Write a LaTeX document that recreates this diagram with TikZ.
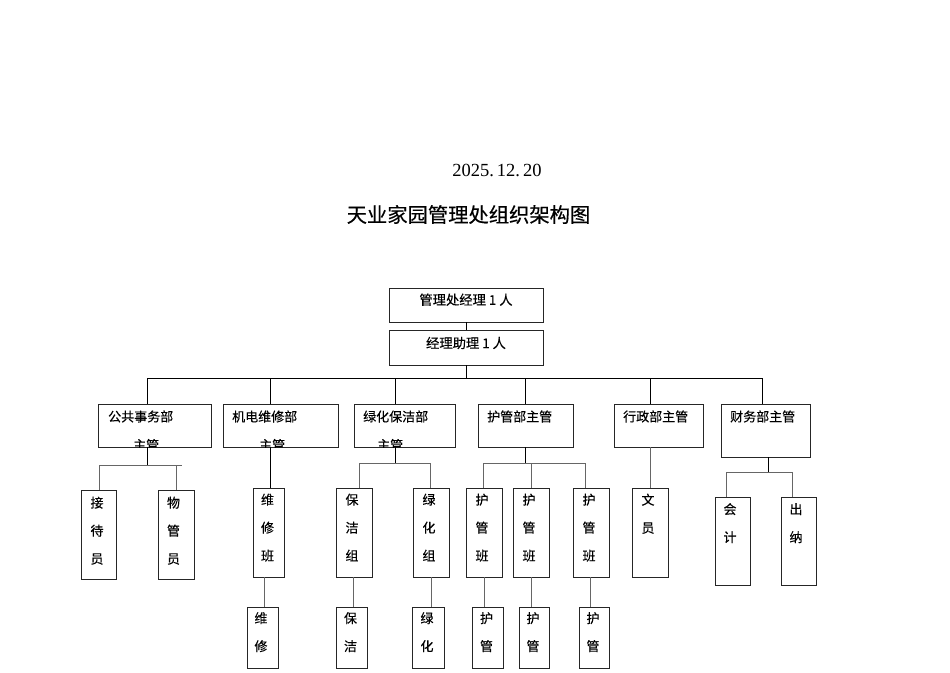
\documentclass[tikz,border=0pt]{standalone}
\usepackage{fontspec}
\setmainfont{Noto Sans CJK SC}[FakeBold=0.35]
\newfontfamily\datefont{Liberation Serif}
\begin{document}
\begin{tikzpicture}[x=1pt,y=-1pt,
  box/.style={draw=black!85,line width=0.9pt,inner sep=0pt,outer sep=0pt,anchor=north west},
  lbl/.style={inner sep=0pt,font=\fontsize{13}{15}\selectfont},
  vlbl/.style={inner sep=0pt,anchor=north,align=center,font=\fontsize{13}{28}\selectfont},
  mainline/.style={draw=black,line width=0.8pt},
  subline/.style={draw=black!60,line width=0.9pt}]
\useasboundingbox[fill=white] (0,0) rectangle (950,672);

% title and date
\node[inner sep=0pt,font=\datefont\fontsize{18.5}{20}\selectfont] (date) at (497,170) {2025.\,12.\,20};
\node[inner sep=0pt,font=\fontsize{20.3}{22}\selectfont] (title) at (468.5,214.5) {天业家园管理处组织架构图};

% top boxes
\node[box,minimum width=154pt,minimum height=34pt] (b1) at (389,288) {};
\node[box,minimum width=154pt,minimum height=35pt] (b2) at (389,330) {};
\node[lbl,font=\fontsize{13.3}{15}\selectfont] (tb1) at ([yshift=-11.7pt]b1.north) {管理处经理 1 人};
\node[lbl,font=\fontsize{13.3}{15}\selectfont] (tb2) at ([yshift=-13pt]b2.north) {经理助理 1 人};

% department boxes
\node[box,minimum width=113pt,minimum height=43pt] (d1) at (98,404) {};
\node[box,minimum width=115pt,minimum height=43pt] (d2) at (223,404) {};
\node[box,minimum width=101pt,minimum height=43pt] (d3) at (354,404) {};
\node[box,minimum width=95pt,minimum height=43pt] (d4) at (478,404) {};
\node[box,minimum width=89pt,minimum height=43pt] (d5) at (614,404) {};
\node[box,minimum width=89pt,minimum height=53pt] (d6) at (721,404) {};

\node[lbl,anchor=west] (td1) at (108,416.5) {公共事务部};
\node[lbl,anchor=west] (td2) at (232,416.5) {机电维修部};
\node[lbl,anchor=west] (td3) at (363,416.5) {绿化保洁部};
\node[lbl,anchor=west] (td4) at (487,416.5) {护管部主管};
\node[lbl,anchor=west] (td5) at (623,416.5) {行政部主管};
\node[lbl,anchor=west] (td6) at (730,416.5) {财务部主管};
\begin{scope}
\clip (d1.north west) rectangle (d1.south east);
\node[lbl,anchor=west] (td1b) at (133,445) {主管};
\end{scope}
\begin{scope}
\clip (d2.north west) rectangle (d2.south east);
\node[lbl,anchor=west] (td2b) at (259,445) {主管};
\end{scope}
\begin{scope}
\clip (d3.north west) rectangle (d3.south east);
\node[lbl,anchor=west] (td3b) at (377,445) {主管};
\end{scope}

% lower boxes
\node[box,minimum width=35pt,minimum height=89pt] (c1) at (81,490) {};
\node[box,minimum width=36pt,minimum height=89pt] (c2) at (158,490) {};
\node[box,minimum width=31pt,minimum height=89pt] (c3) at (253,488) {};
\node[box,minimum width=31pt,minimum height=61pt] (c4) at (247,607) {};
\node[box,minimum width=36pt,minimum height=89pt] (c5) at (336,488) {};
\node[box,minimum width=36pt,minimum height=89pt] (c6) at (413,488) {};
\node[box,minimum width=31pt,minimum height=61pt] (c7) at (336,607) {};
\node[box,minimum width=32pt,minimum height=61pt] (c8) at (412,607) {};
\node[box,minimum width=36pt,minimum height=89pt] (c9) at (466,488) {};
\node[box,minimum width=36pt,minimum height=89pt] (c10) at (513,488) {};
\node[box,minimum width=36pt,minimum height=89pt] (c11) at (573,488) {};
\node[box,minimum width=31pt,minimum height=61pt] (c12) at (472,607) {};
\node[box,minimum width=30pt,minimum height=61pt] (c13) at (519,607) {};
\node[box,minimum width=30pt,minimum height=61pt] (c14) at (579,607) {};
\node[box,minimum width=36pt,minimum height=89pt] (c15) at (632,488) {};
\node[box,minimum width=35pt,minimum height=88pt] (c16) at (715,497) {};
\node[box,minimum width=35pt,minimum height=88pt] (c17) at (781,497) {};

\node[vlbl] (tc1) at ([xshift=-1.5pt,yshift=-6.5pt]c1.north) {接\\待\\员};
\node[vlbl] (tc2) at ([xshift=-2.5pt,yshift=-6.5pt]c2.north) {物\\管\\员};
\node[vlbl] (tc3) at ([xshift=-1pt,yshift=-5.5pt]c3.north) {维\\修\\班};
\node[vlbl] (tc4) at ([xshift=-1.5pt,yshift=-5pt]c4.north) {维\\修};
\node[vlbl] (tc5) at ([xshift=-2pt,yshift=-5.5pt]c5.north) {保\\洁\\组};
\node[vlbl] (tc6) at ([xshift=-2pt,yshift=-5.5pt]c6.north) {绿\\化\\组};
\node[vlbl] (tc7) at ([xshift=-1pt,yshift=-5pt]c7.north) {保\\洁};
\node[vlbl] (tc8) at ([xshift=-1pt,yshift=-5pt]c8.north) {绿\\化};
\node[vlbl] (tc9) at ([xshift=-2pt,yshift=-5.5pt]c9.north) {护\\管\\班};
\node[vlbl] (tc10) at ([xshift=-2pt,yshift=-5.5pt]c10.north) {护\\管\\班};
\node[vlbl] (tc11) at ([xshift=-2pt,yshift=-5.5pt]c11.north) {护\\管\\班};
\node[vlbl] (tc12) at ([xshift=-1pt,yshift=-5pt]c12.north) {护\\管};
\node[vlbl] (tc13) at ([xshift=-1pt,yshift=-5pt]c13.north) {护\\管};
\node[vlbl] (tc14) at ([xshift=-1pt,yshift=-5pt]c14.north) {护\\管};
\node[vlbl] (tc15) at ([xshift=-2pt,yshift=-5.5pt]c15.north) {文\\员};
\node[vlbl] (tc16) at ([xshift=-2.5pt,yshift=-6pt]c16.north) {会\\计};
\node[vlbl] (tc17) at ([xshift=-2.5pt,yshift=-6pt]c17.north) {出\\纳};

% top connectors
\draw[mainline] (b1.south) -- (b2.north);
\coordinate (k1) at (147,378);
\coordinate (k2) at (270,378);
\coordinate (k3) at (395,378);
\coordinate (k4) at (525,378);
\coordinate (k5) at (650,378);
\coordinate (k6) at (762,378);
\draw[mainline] (k1) -- (k6);
\draw[mainline] (b2.south) -- (b2.south |- k1);
\foreach \k/\d in {k1/d1,k2/d2,k3/d3,k4/d4,k5/d5,k6/d6}
  \draw[mainline] (\k) -- (\k |- \d.north);

% department 1
\coordinate (j1) at (147,465.7);
\coordinate (j1L) at (99,465.7);
\coordinate (j1R) at (181.7,465.7);
\coordinate (j1b) at (176,465.7);
\draw[mainline] (j1 |- d1.south) -- (j1);
\draw[subline] (j1L) -- (j1R);
\draw[subline] (j1L) -- (j1L |- c1.north);
\draw[subline] (j1b) -- (j1b |- c2.north);

% department 2
\coordinate (j2) at (270.7,447);
\draw[mainline] (j2 |- d2.south) -- (j2 |- c3.north);
\coordinate (j2b) at (264.7,577);
\draw[subline] (j2b |- c3.south) -- (j2b |- c4.north);

% department 3
\coordinate (j3) at (395,463.3);
\coordinate (j3L) at (359.3,463.3);
\coordinate (j3R) at (430.7,463.3);
\draw[mainline] (j3 |- d3.south) -- (j3);
\draw[subline] (j3L) -- (j3R);
\draw[subline] (j3L) -- (j3L |- c5.north);
\draw[subline] (j3R) -- (j3R |- c6.north);
\coordinate (j3a) at (353.3,590);
\coordinate (j3b) at (431,590);
\draw[subline] (j3a |- c5.south) -- (j3a |- c7.north);
\draw[subline] (j3b |- c6.south) -- (j3b |- c8.north);

% department 4
\coordinate (j4) at (525,463.3);
\coordinate (j4L) at (483.3,463.3);
\coordinate (j4M) at (531.7,463.3);
\coordinate (j4R) at (585,463.3);
\draw[mainline] (j4 |- d4.south) -- (j4);
\draw[subline] (j4L) -- (j4R);
\draw[subline] (j4L) -- (j4L |- c9.north);
\draw[subline] (j4M) -- (j4M |- c10.north);
\draw[subline] (j4R) -- (j4R |- c11.north);
\coordinate (j4a) at (484,590);
\coordinate (j4b) at (531.7,590);
\coordinate (j4c) at (590.3,590);
\draw[subline] (j4a |- c9.south) -- (j4a |- c12.north);
\draw[subline] (j4b |- c10.south) -- (j4b |- c13.north);
\draw[subline] (j4c |- c11.south) -- (j4c |- c14.north);

% department 5
\coordinate (j5) at (650,447);
\draw[subline] (j5 |- d5.south) -- (j5 |- c15.north);

% department 6
\coordinate (j6) at (768.3,472);
\coordinate (j6L) at (726.7,472);
\coordinate (j6R) at (792.3,472);
\draw[mainline] (j6 |- d6.south) -- (j6);
\draw[subline] (j6L) -- (j6R);
\draw[subline] (j6L) -- (j6L |- c16.north);
\draw[subline] (j6R) -- (j6R |- c17.north);
\end{tikzpicture}
\end{document}
